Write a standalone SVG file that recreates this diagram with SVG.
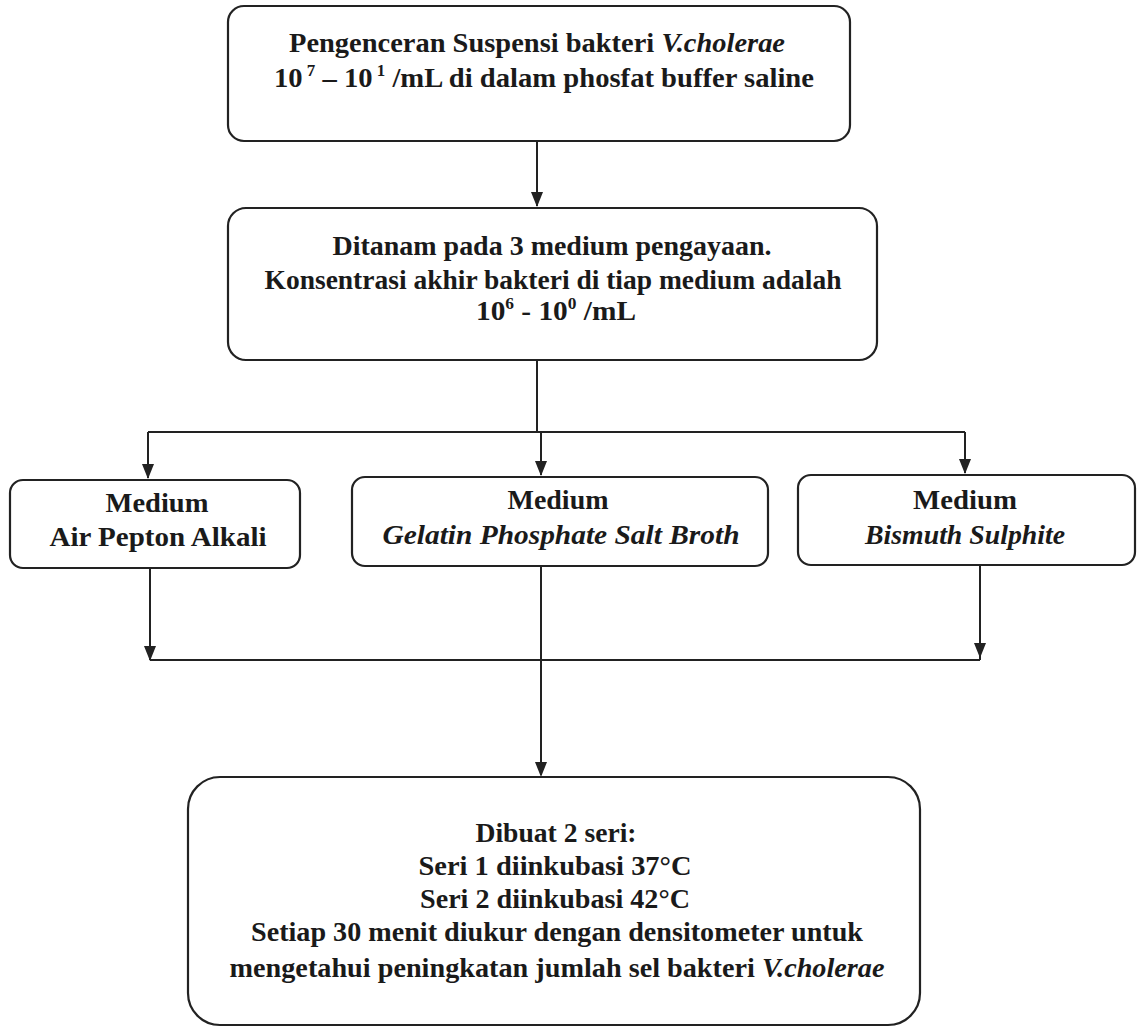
<svg xmlns="http://www.w3.org/2000/svg" width="1142" height="1029" viewBox="0 0 1142 1029">
<defs>
<style>
.box{fill:#fff;stroke:#222;stroke-width:2.2}
.t{font-family:"Liberation Serif","Times New Roman",serif;font-weight:bold;font-size:27px;fill:#1a1a1a;text-anchor:middle}
.i{font-style:italic}
.c{fill:none;stroke:#222;stroke-width:2}
.ah{fill:#222}
</style>
</defs>
<rect width="1142" height="1029" fill="#fff"/>
<g id="connectors">
<path class="c" d="M537,141 V206"/>
<path class="ah" d="M531,192 L543,192 L537,207 Z"/>
<path class="c" d="M537,360 V432 M148,432 H965 M148,432 V478 M541,432 V475 M965,432 V473"/>
<path class="ah" d="M142,464 L154,464 L148,479 Z"/>
<path class="ah" d="M535,461 L547,461 L541,476 Z"/>
<path class="ah" d="M959,459 L971,459 L965,474 Z"/>
<path class="c" d="M150,568 V660 M980,565 V660 M150,660 H980 M541,566 V775"/>
<path class="ah" d="M144,646 L156,646 L150,661 Z"/>
<path class="ah" d="M974,643 L986,643 L980,658 Z"/>
<path class="ah" d="M535,762 L547,762 L541,777 Z"/>
</g>
<g id="n1">
<rect class="box" x="228" y="6" width="622" height="135" rx="16"/>
<text class="t" x="537" y="52" textLength="496" lengthAdjust="spacingAndGlyphs">Pengenceran Suspensi bakteri <tspan class="i">V.cholerae</tspan></text>
<text class="t" x="544" y="87" textLength="540" lengthAdjust="spacingAndGlyphs">10<tspan font-size="16" dy="-11"> 7</tspan><tspan dy="11"> – 10</tspan><tspan font-size="16" dy="-11"> 1</tspan><tspan dy="11"> /mL di dalam phosfat buffer saline</tspan></text>
</g>
<g id="n2">
<rect class="box" x="228" y="208" width="649" height="152" rx="18"/>
<text class="t" x="552" y="255" textLength="439" lengthAdjust="spacingAndGlyphs">Ditanam pada 3 medium pengayaan.</text>
<text class="t" x="553" y="289" textLength="577" lengthAdjust="spacingAndGlyphs">Konsentrasi akhir bakteri di tiap medium adalah</text>
<text class="t" x="556" y="320" textLength="160" lengthAdjust="spacingAndGlyphs">10<tspan font-size="16" dy="-11">6</tspan><tspan dy="11"> - 10</tspan><tspan font-size="16" dy="-11">0</tspan><tspan dy="11"> /mL</tspan></text>
</g>
<g id="n3">
<rect class="box" x="10" y="480" width="290" height="88" rx="13"/>
<text class="t" x="157" y="512" textLength="103" lengthAdjust="spacingAndGlyphs">Medium</text>
<text class="t" x="158" y="546" textLength="217" lengthAdjust="spacingAndGlyphs">Air Pepton Alkali</text>
</g>
<g id="n4">
<rect class="box" x="352" y="477" width="416" height="89" rx="13"/>
<text class="t" x="558" y="509" textLength="101" lengthAdjust="spacingAndGlyphs">Medium</text>
<text class="t i" x="561" y="544" textLength="357" lengthAdjust="spacingAndGlyphs">Gelatin Phosphate Salt Broth</text>
</g>
<g id="n5">
<rect class="box" x="798" y="475" width="337" height="90" rx="13"/>
<text class="t" x="965" y="509" textLength="104" lengthAdjust="spacingAndGlyphs">Medium</text>
<text class="t i" x="965" y="544" textLength="200" lengthAdjust="spacingAndGlyphs">Bismuth Sulphite</text>
</g>
<g id="n6">
<rect class="box" x="188" y="777" width="732" height="248" rx="32"/>
<text class="t" x="556" y="842" textLength="161" lengthAdjust="spacingAndGlyphs">Dibuat 2 seri:</text>
<text class="t" x="555" y="875" textLength="273" lengthAdjust="spacingAndGlyphs">Seri 1 diinkubasi 37°C</text>
<text class="t" x="555" y="908" textLength="270" lengthAdjust="spacingAndGlyphs">Seri 2 diinkubasi 42°C</text>
<text class="t" x="557" y="941" textLength="612" lengthAdjust="spacingAndGlyphs">Setiap 30 menit diukur dengan densitometer untuk</text>
<text class="t" x="557" y="977" textLength="655" lengthAdjust="spacingAndGlyphs">mengetahui peningkatan jumlah sel bakteri <tspan class="i">V.cholerae</tspan></text>
</g>
</svg>
